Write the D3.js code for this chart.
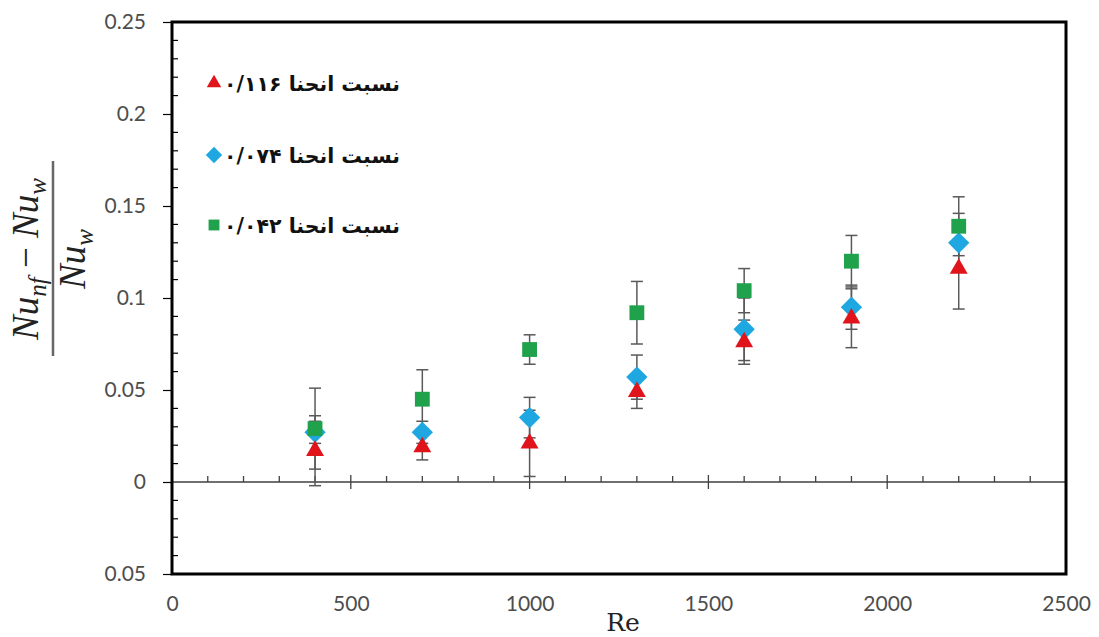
<!DOCTYPE html>
<html>
<head>
<meta charset="utf-8">
<script src="https://cdn.jsdelivr.net/npm/d3@7"></script>
<style>
  html, body { margin: 0; padding: 0; background: #fff; }
  svg { display: block; }
</style>
</head>
<body>
<svg id="chart" width="1099" height="637"></svg>
<script>
// ---- data ----
const reynolds = [400, 700, 1000, 1300, 1600, 1900, 2200];
const seriesNames = ["نسبت انحنا ۰/۱۱۶", "نسبت انحنا ۰/۰۷۴", "نسبت انحنا ۰/۰۴۲"];
const ratio116 = [0.017, 0.019, 0.021, 0.049, 0.076, 0.089, 0.116];
const err116   = [0.019, 0.007, 0.018, 0.009, 0.012, 0.016, 0.022];
const ratio074 = [0.027, 0.027, 0.035, 0.057, 0.083, 0.095, 0.130];
const err074   = [0.006, 0.006, 0.011, 0.012, 0.017, 0.012, 0.016];
const ratio042 = [0.029, 0.045, 0.072, 0.092, 0.104, 0.120, 0.139];
const err042   = [0.022, 0.016, 0.008, 0.017, 0.012, 0.014, 0.016];
const xTicks = [0, 500, 1000, 1500, 2000, 2500];
const yTicks = [-0.05, 0, 0.05, 0.1, 0.15, 0.2, 0.25];
const yTickLabels = ["0.05", "0", "0.05", "0.1", "0.15", "0.2", "0.25"];

// ---- layout ----
const svg = d3.select("#chart");
const L = 172, R = 1066, T = 22, B = 574;
const x = d3.scaleLinear().domain([0, 2500]).range([L, R]);
const y = d3.scaleLinear().domain([-0.05, 0.25]).range([B, T]);

const series = [
  { name: seriesNames[1], vals: ratio074, errs: err074, color: "#1ea7e1", shape: d3.symbolDiamond2, size: 290 },
  { name: seriesNames[0], vals: ratio116, errs: err116, color: "#e0151c", shape: d3.symbolTriangle2, size: 230 },
  { name: seriesNames[2], vals: ratio042, errs: err042, color: "#1fa24b", shape: d3.symbolSquare2, size: 280 }
];

// y axis: major ticks outside
const yAxis = d3.axisLeft(y).tickValues(yTicks).tickSize(9).tickPadding(17)
  .tickFormat((d, i) => yTickLabels[i]);
const gy = svg.append("g").attr("transform", `translate(${L},0)`).call(yAxis);
gy.select(".domain").remove();
gy.selectAll(".tick line").attr("stroke", "#000").attr("stroke-width", 1.2);
gy.selectAll(".tick text").attr("fill", "#4d4d4d")
  .style("font-family", "Lato, 'Open Sans', sans-serif").style("font-size", "21px");

// y minor ticks inside
const yMinor = d3.range(-0.04, 0.25, 0.01).filter(v => Math.abs(Math.round(v * 100) % 5) !== 0);
svg.append("g").selectAll("line").data(yMinor).join("line")
  .attr("x1", L).attr("x2", L + 6)
  .attr("y1", d => y(d)).attr("y2", d => y(d))
  .attr("stroke", "#000").attr("stroke-width", 1.2);

// x tick labels along bottom
const xAxis = d3.axisBottom(x).tickValues(xTicks).tickSize(0).tickPadding(22).tickFormat(d3.format("d"));
const gx = svg.append("g").attr("transform", `translate(0,${B})`).call(xAxis);
gx.select(".domain").remove();
gx.selectAll(".tick text").attr("fill", "#4d4d4d")
  .style("font-family", "Lato, 'Open Sans', sans-serif").style("font-size", "21px");

// zero line with ticks
svg.append("line").attr("x1", L).attr("x2", R).attr("y1", y(0)).attr("y2", y(0))
  .attr("stroke", "#404040").attr("stroke-width", 1.5);
const xMinor = d3.range(100, 2500, 100);
svg.append("g").selectAll("line").data(xMinor).join("line")
  .attr("x1", d => x(d)).attr("x2", d => x(d))
  .attr("y1", d => d % 500 === 0 ? y(0) - 7 : y(0) - 6)
  .attr("y2", d => d % 500 === 0 ? y(0) + 7 : y(0))
  .attr("stroke", "#404040").attr("stroke-width", 1.3);

// plot frame
svg.append("rect").attr("x", L).attr("y", T).attr("width", R - L).attr("height", B - T)
  .attr("fill", "none").attr("stroke", "#000").attr("stroke-width", 3);

// error bars
const cap = 6;
series.forEach(s => {
  const g = svg.append("g").attr("stroke", "#595959").attr("stroke-width", 1.5);
  reynolds.forEach((r, i) => {
    const cx = x(r), top = y(s.vals[i] + s.errs[i]), bot = y(s.vals[i] - s.errs[i]);
    g.append("line").attr("x1", cx).attr("x2", cx).attr("y1", top).attr("y2", bot);
    g.append("line").attr("x1", cx - cap).attr("x2", cx + cap).attr("y1", top).attr("y2", top);
    g.append("line").attr("x1", cx - cap).attr("x2", cx + cap).attr("y1", bot).attr("y2", bot);
  });
});

// markers
series.forEach(s => {
  svg.append("g").selectAll("path").data(reynolds).join("path")
    .attr("transform", (r, i) => `translate(${x(r)},${y(s.vals[i])})`)
    .attr("d", d3.symbol().type(s.shape).size(s.size))
    .attr("fill", s.color);
});

// legend
const legend = [
  { name: seriesNames[0], color: "#e0151c", shape: d3.symbolTriangle2, size: 150, yy: 83 },
  { name: seriesNames[1], color: "#1ea7e1", shape: d3.symbolDiamond2, size: 170, yy: 155 },
  { name: seriesNames[2], color: "#1fa24b", shape: d3.symbolSquare2, size: 150, yy: 225 }
];
const lg = svg.append("g");
legend.forEach(l => {
  lg.append("path").attr("transform", `translate(214,${l.yy})`)
    .attr("d", d3.symbol().type(l.shape).size(l.size)).attr("fill", l.color);
  lg.append("text").attr("x", 400).attr("y", l.yy + 8)
    .attr("direction", "rtl").attr("text-anchor", "start")
    .style("font-family", "'DejaVu Sans', sans-serif").style("font-weight", "bold")
    .style("font-size", "20.5px").attr("fill", "#111").text(l.name);
});

// x axis title
svg.append("text").attr("x", 623).attr("y", 631).attr("text-anchor", "middle")
  .style("font-family", "'DejaVu Serif', 'Liberation Serif', serif").style("font-size", "25px")
  .attr("fill", "#222").text("Re");

// y axis title as fraction
const yl = svg.append("g").attr("transform", "translate(53,259) rotate(-90)")
  .style("font-family", "'Liberation Serif', 'DejaVu Serif', serif").style("font-style", "italic")
  .attr("fill", "#222");
yl.append("line").attr("x1", -97).attr("x2", 98).attr("y1", 0).attr("y2", 0)
  .attr("stroke", "#666").attr("stroke-width", 2.5);
const num = yl.append("text").attr("x", 0).attr("y", -15).attr("text-anchor", "middle").style("font-size", "37px");
num.append("tspan").text("Nu");
num.append("tspan").attr("dy", 8).style("font-size", "25px").text("nf");
num.append("tspan").attr("dy", -8).style("font-style", "normal").text(" − ");
num.append("tspan").text("Nu");
num.append("tspan").attr("dy", 8).style("font-size", "25px").text("w");
const den = yl.append("text").attr("x", 0).attr("y", 32).attr("text-anchor", "middle").style("font-size", "37px");
den.append("tspan").text("Nu");
den.append("tspan").attr("dy", 8).style("font-size", "25px").text("w");
</script>
</body>
</html>
